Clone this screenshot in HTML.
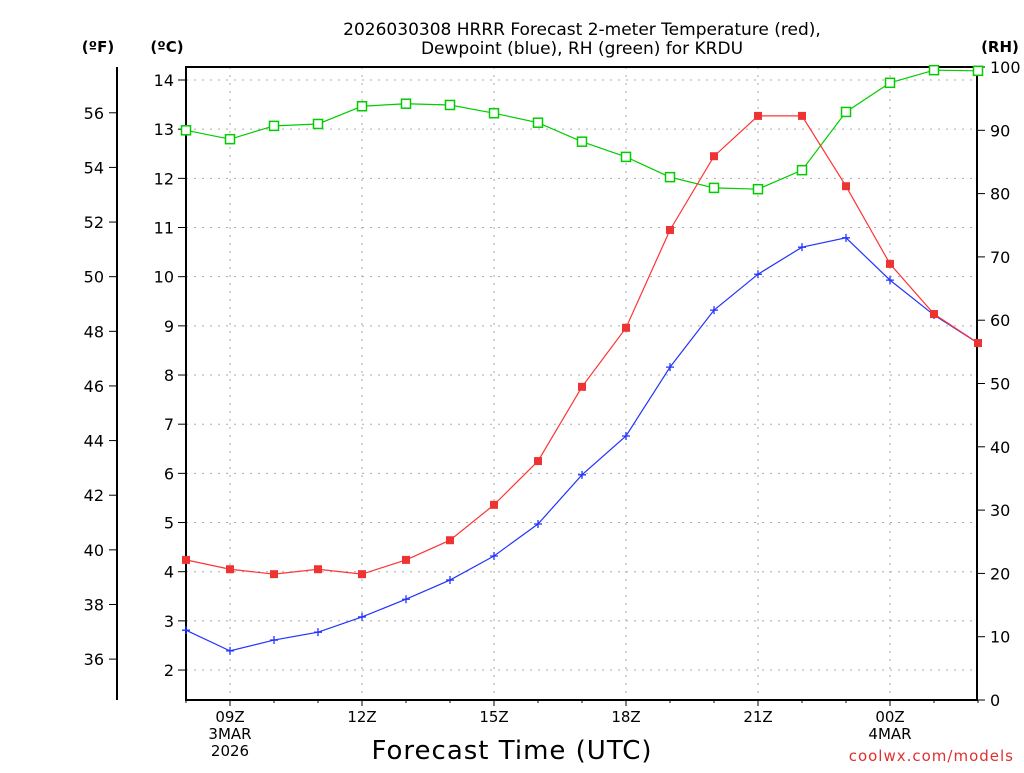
<!DOCTYPE html>
<html><head><meta charset="utf-8"><style>
body{margin:0;background:#fff;}
svg text{font-family:"DejaVu Sans","Liberation Sans",sans-serif;}
</style></head><body>
<svg id="chart" width="1024" height="768" viewBox="0 0 1024 768" xmlns="http://www.w3.org/2000/svg">
<g id="grid"></g>
<g id="axes"></g>
<g id="series"></g>
<text x="582" y="35" text-anchor="middle" font-size="17">2026030308 HRRR Forecast 2-meter Temperature (red),</text>
<text x="582" y="54" text-anchor="middle" font-size="17">Dewpoint (blue), RH (green) for KRDU</text>
<text x="98" y="52" text-anchor="middle" font-size="15" font-weight="bold">(ºF)</text>
<text x="167" y="52" text-anchor="middle" font-size="15" font-weight="bold">(ºC)</text>
<text x="1000" y="52" text-anchor="middle" font-size="15" font-weight="bold">(RH)</text>
<text x="512" y="759" text-anchor="middle" font-size="26" letter-spacing="1">Forecast Time (UTC)</text>
<text x="1014" y="761" text-anchor="end" font-size="15" fill="#e03030" letter-spacing="1">coolwx.com/models</text>
</svg>
<script>
const hours=[8,9,10,11,12,13,14,15,16,17,18,19,20,21,22,23,24,25,26];
const tempC=[4.24,4.05,3.95,4.05,3.95,4.24,4.64,5.36,6.25,7.76,8.96,10.95,12.45,13.27,13.27,11.84,10.26,9.24,8.65];
const dewC=[2.81,2.39,2.61,2.77,3.08,3.44,3.83,4.32,4.97,5.97,6.76,8.16,9.32,10.05,10.60,10.79,9.93,9.22,8.65];
const rh=[90.0,88.6,90.7,91.0,93.8,94.2,94.0,92.7,91.2,88.2,85.8,82.6,80.9,80.7,83.7,92.9,97.5,99.5,99.4];
const cTicks=[2,3,4,5,6,7,8,9,10,11,12,13,14];
const fTicks=[36,38,40,42,44,46,48,50,52,54,56];
const rhTicks=[0,10,20,30,40,50,60,70,80,90,100];
const xTicks=[9,12,15,18,21,24];
const xLabels=[["09Z","3MAR","2026"],["12Z"],["15Z"],["18Z"],["21Z"],["00Z","4MAR"]];
const L=186,R=977,T=67,B=700;
const x=h=>L+(h-8)*44;
const yC=c=>80+(14-c)*49.17;
const yF=f=>yC((f-32)*5/9);
const yR=r=>B-r*6.33;
const NS="http://www.w3.org/2000/svg";
function mk(p,t,a){const e=document.createElementNS(NS,t);for(const k in a)e.setAttribute(k,a[k]);p.appendChild(e);return e;}
const grid=document.getElementById('grid'),axes=document.getElementById('axes'),ser=document.getElementById('series');
cTicks.forEach(c=>{
 const g=mk(grid,'line',{x1:L,x2:R,y1:yC(c),y2:yC(c),stroke:'#aaa','stroke-dasharray':'2,6'});
 
 
 mk(axes,'line',{x1:L-8,x2:L,y1:yC(c),y2:yC(c),stroke:'#000'});
 const t=mk(axes,'text',{x:L-12,y:yC(c)+6,'text-anchor':'end','font-size':16});t.textContent=c;
 
 
});
xTicks.forEach((h,i)=>{
 const g=mk(grid,'line',{x1:x(h),x2:x(h),y1:T,y2:B,stroke:'#aaa','stroke-dasharray':'2,6'});
 
 
 mk(axes,'line',{x1:x(h),x2:x(h),y1:B,y2:B+6,stroke:'#000'});
 xLabels[i].forEach((s,j)=>{const t=mk(axes,'text',{x:x(h),y:722+j*17,'text-anchor':'middle','font-size':15});t.textContent=s;
 
 });
});
for(let h=8;h<=26;h++)mk(axes,'line',{x1:x(h),x2:x(h),y1:B,y2:B+3,stroke:'#000'});
mk(axes,'rect',{x:L,y:T,width:R-L,height:B-T,fill:'none',stroke:'#000','stroke-width':2});
mk(axes,'line',{x1:117,x2:117,y1:T,y2:B,stroke:'#000','stroke-width':2});
fTicks.forEach(f=>{
 mk(axes,'line',{x1:109,x2:117,y1:yF(f),y2:yF(f),stroke:'#000'});
 const t=mk(axes,'text',{x:104,y:yF(f)+6,'text-anchor':'end','font-size':16});t.textContent=f;
 
 
});
rhTicks.forEach(r=>{
 mk(axes,'line',{x1:R,x2:R+8,y1:yR(r),y2:yR(r),stroke:'#000'});
 const t=mk(axes,'text',{x:990,y:yR(r)+6,'font-size':16});t.textContent=r;
 
 
});
function line(vals,yf,col,name){
 const p=mk(ser,'polyline',{points:vals.map((v,i)=>x(hours[i])+','+yf(v)).join(' '),fill:'none',stroke:col,'stroke-width':1.2});
 
 
}
line(rh,yR,'#00cc00','rh-line');
line(dewC,yC,'#2233ff','dewpoint-line');
line(tempC,yC,'#ff3333','temperature-line');
rh.forEach((v,i)=>{const m=mk(ser,'rect',{x:x(hours[i])-4.5,y:yR(v)-4.5,width:9,height:9,fill:'#fff',stroke:'#00cc00','stroke-width':1.5});
 
 });
dewC.forEach((v,i)=>{const X=x(hours[i]),Y=yC(v);const m=mk(ser,'path',{d:`M${X-4} ${Y}H${X+4}M${X} ${Y-4}V${Y+4}`,stroke:'#2233ff','stroke-width':1.3});
 
 });
tempC.forEach((v,i)=>{const m=mk(ser,'rect',{x:x(hours[i])-4,y:yC(v)-4,width:8,height:8,fill:'#ee3333'});
 
 });
</script>
</body></html>
